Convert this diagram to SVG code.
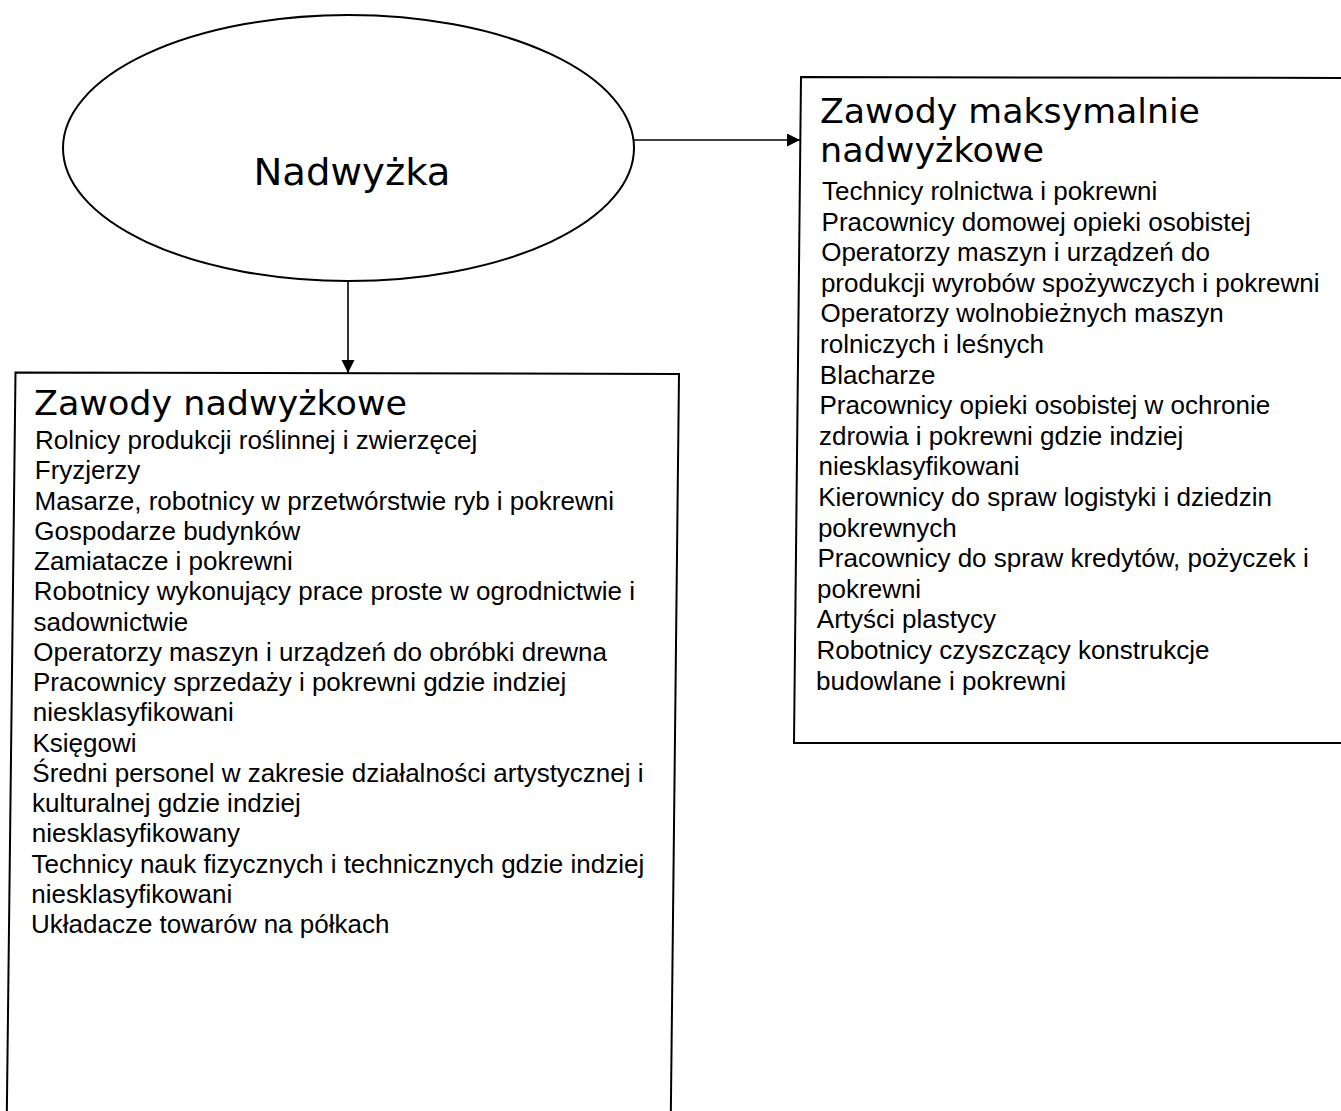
<svg xmlns="http://www.w3.org/2000/svg" width="1341" height="1111" viewBox="0 0 1341 1111">
<style>
.bg{fill:#fff}
.shape{fill:#fff;stroke:#000;stroke-width:2}
.conn{fill:none;stroke:#000;stroke-width:1.6}
.title{font-family:"DejaVu Sans",Verdana,sans-serif;font-size:33px;fill:#000}
.big{font-family:"DejaVu Sans",Verdana,sans-serif;font-size:38px;fill:#000}
.body{font-family:"Liberation Sans",Arial,sans-serif;font-size:26px;fill:#000}
</style>
<defs>
<marker id="arr" markerUnits="userSpaceOnUse" markerWidth="14" markerHeight="14" refX="13" refY="6.5" orient="auto">
<path d="M0,0 L13,6.5 L0,13 Z" fill="#000"/>
</marker>
</defs>
<rect class="bg" x="0" y="0" width="1341" height="1111"/>
<g id="nadwyzka">
<ellipse class="shape" cx="348.5" cy="148" rx="285.5" ry="133"/>
<text class="big" x="352" y="185" text-anchor="middle" textLength="197" lengthAdjust="spacingAndGlyphs">Nadwyżka</text>
</g>
<g id="zawody-maksymalnie">
<path class="shape" d="M1346,78 L801,77 L794,743 L1346,743"/>
<text class="title" x="820" y="123" textLength="380" lengthAdjust="spacingAndGlyphs">Zawody maksymalnie</text>
<text class="title" x="820" y="162" textLength="224" lengthAdjust="spacingAndGlyphs">nadwyżkowe</text>
<g class="body">
<text x="822" y="200">Technicy rolnictwa i pokrewni</text>
<text x="821.6" y="230.6">Pracownicy domowej opieki osobistej</text>
<text x="821.2" y="261.2">Operatorzy maszyn i urządzeń do</text>
<text x="820.9" y="291.8">produkcji wyrobów spożywczych i pokrewni</text>
<text x="820.5" y="322.4">Operatorzy wolnobieżnych maszyn</text>
<text x="820.1" y="353">rolniczych i leśnych</text>
<text x="819.8" y="383.6">Blacharze</text>
<text x="819.4" y="414.2">Pracownicy opieki osobistej w ochronie</text>
<text x="819" y="444.8">zdrowia i pokrewni gdzie indziej</text>
<text x="818.6" y="475.4">niesklasyfikowani</text>
<text x="818.2" y="506">Kierownicy do spraw logistyki i dziedzin</text>
<text x="817.9" y="536.6">pokrewnych</text>
<text x="817.5" y="567.2">Pracownicy do spraw kredytów, pożyczek i</text>
<text x="817.1" y="597.8">pokrewni</text>
<text x="816.8" y="628.4">Artyści plastycy</text>
<text x="816.4" y="659">Robotnicy czyszczący konstrukcje</text>
<text x="816" y="689.6">budowlane i pokrewni</text>
</g>
</g>
<g id="zawody-nadwyzkowe">
<path class="shape" d="M6.8,1116 L15.5,372.5 L679,374 L670.8,1116"/>
<text class="title" x="34" y="415" textLength="373" lengthAdjust="spacingAndGlyphs">Zawody nadwyżkowe</text>
<g class="body">
<text x="35" y="449">Rolnicy produkcji roślinnej i zwierzęcej</text>
<text x="34.8" y="479.3">Fryzjerzy</text>
<text x="34.5" y="509.5">Masarze, robotnicy w przetwórstwie ryb i pokrewni</text>
<text x="34.3" y="539.8">Gospodarze budynków</text>
<text x="34" y="570">Zamiatacze i pokrewni</text>
<text x="33.8" y="600.3">Robotnicy wykonujący prace proste w ogrodnictwie i</text>
<text x="33.5" y="630.5">sadownictwie</text>
<text x="33.3" y="660.8">Operatorzy maszyn i urządzeń do obróbki drewna</text>
<text x="33" y="691">Pracownicy sprzedaży i pokrewni gdzie indziej</text>
<text x="32.8" y="721.3">niesklasyfikowani</text>
<text x="32.5" y="751.5">Księgowi</text>
<text x="32.3" y="781.8">Średni personel w zakresie działalności artystycznej i</text>
<text x="32" y="812">kulturalnej gdzie indziej</text>
<text x="31.8" y="842.3">niesklasyfikowany</text>
<text x="31.5" y="872.5">Technicy nauk fizycznych i technicznych gdzie indziej</text>
<text x="31.3" y="902.8">niesklasyfikowani</text>
<text x="31" y="933">Układacze towarów na półkach</text>
</g>
</g>
<g id="connectors">
<line class="conn" x1="634" y1="140" x2="800" y2="140" marker-end="url(#arr)"/>
<line class="conn" x1="348" y1="281" x2="348" y2="373" marker-end="url(#arr)"/>
</g>
</svg>
